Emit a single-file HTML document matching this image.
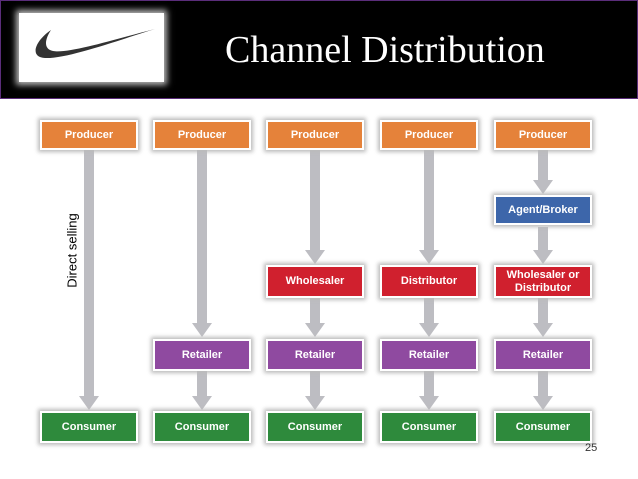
<!DOCTYPE html>
<html><head><style>
body{margin:0;width:638px;height:479px;background:#fff;position:relative;overflow:hidden;font-family:"Liberation Sans",sans-serif}
.hdr{position:absolute;left:0;top:0;width:636px;height:97px;background:#000;border:1px solid #5a2d7a}
.logo{position:absolute;left:19px;top:13px;width:145px;height:69px;background:#fff;box-shadow:0 0 6px 3px #bbb}
.title{position:absolute;left:225px;top:28px;font-family:"Liberation Serif",serif;font-size:38px;color:#fff}
.b{position:absolute;width:96px;height:30px;color:#fff;font-weight:bold;font-size:11px;display:flex;align-items:center;justify-content:center;text-align:center;line-height:13px;border:2px solid #fff;box-shadow:0 0 4px 2px #bbb;box-sizing:border-box}
.o{background:#e5823a}.r{background:#d0202e}.p{background:#8f4aa0}.g{background:#2e8a3c}.bl{background:#3d66aa}
</style></head><body>
<div class="hdr"></div>
<div class="logo"><svg width="145" height="69"><path d="M32 17 C16 28 10 44 26 45 C48 46 100 27 136 16 C100 25 50 41 34 38 C24 36 26 26 32 17Z" fill="#333"/></svg></div>
<div class="title">Channel Distribution</div>
<svg style="position:absolute;left:0;top:0" width="638" height="479">
<g fill="#bdbdc2">
<rect x="84" y="150" width="10" height="248"/><polygon points="79,396 99,396 89,410"/>
<rect x="197" y="150" width="10" height="175"/><polygon points="192,323 212,323 202,337"/>
<rect x="197" y="371" width="10" height="27"/><polygon points="192,396 212,396 202,410"/>
<rect x="310" y="150" width="10" height="102"/><polygon points="305,250 325,250 315,264"/>
<rect x="310" y="298" width="10" height="27"/><polygon points="305,323 325,323 315,337"/>
<rect x="310" y="371" width="10" height="27"/><polygon points="305,396 325,396 315,410"/>
<rect x="424" y="150" width="10" height="102"/><polygon points="419,250 439,250 429,264"/>
<rect x="424" y="298" width="10" height="27"/><polygon points="419,323 439,323 429,337"/>
<rect x="424" y="371" width="10" height="27"/><polygon points="419,396 439,396 429,410"/>
<rect x="538" y="150" width="10" height="32"/><polygon points="533,180 553,180 543,194"/>
<rect x="538" y="227" width="10" height="25"/><polygon points="533,250 553,250 543,264"/>
<rect x="538" y="298" width="10" height="27"/><polygon points="533,323 553,323 543,337"/>
<rect x="538" y="371" width="10" height="27"/><polygon points="533,396 553,396 543,410"/>
</g></svg>
<div class="b o" style="left:40px;top:120px;width:98px">Producer</div>
<div class="b o" style="left:153px;top:120px;width:98px">Producer</div>
<div class="b o" style="left:266px;top:120px;width:98px">Producer</div>
<div class="b o" style="left:380px;top:120px;width:98px">Producer</div>
<div class="b o" style="left:494px;top:120px;width:98px">Producer</div>
<div class="b bl" style="left:494px;top:195px;width:98px">Agent/Broker</div>
<div class="b r" style="left:266px;top:265px;width:98px;height:33px">Wholesaler</div>
<div class="b r" style="left:380px;top:265px;width:98px;height:33px">Distributor</div>
<div class="b r" style="left:494px;top:265px;width:98px;height:33px">Wholesaler or<br>Distributor</div>
<div class="b p" style="left:153px;top:339px;width:98px;height:32px">Retailer</div>
<div class="b p" style="left:266px;top:339px;width:98px;height:32px">Retailer</div>
<div class="b p" style="left:380px;top:339px;width:98px;height:32px">Retailer</div>
<div class="b p" style="left:494px;top:339px;width:98px;height:32px">Retailer</div>
<div class="b g" style="left:40px;top:411px;width:98px;height:32px">Consumer</div>
<div class="b g" style="left:153px;top:411px;width:98px;height:32px">Consumer</div>
<div class="b g" style="left:266px;top:411px;width:98px;height:32px">Consumer</div>
<div class="b g" style="left:380px;top:411px;width:98px;height:32px">Consumer</div>
<div class="b g" style="left:494px;top:411px;width:98px;height:32px">Consumer</div>
<div style="position:absolute;left:22px;top:243px;width:100px;text-align:center;transform:rotate(-90deg);font-size:13px;color:#000">Direct selling</div>
<div style="position:absolute;left:585px;top:442px;font-size:11px;color:#333">25</div>
</body></html>
